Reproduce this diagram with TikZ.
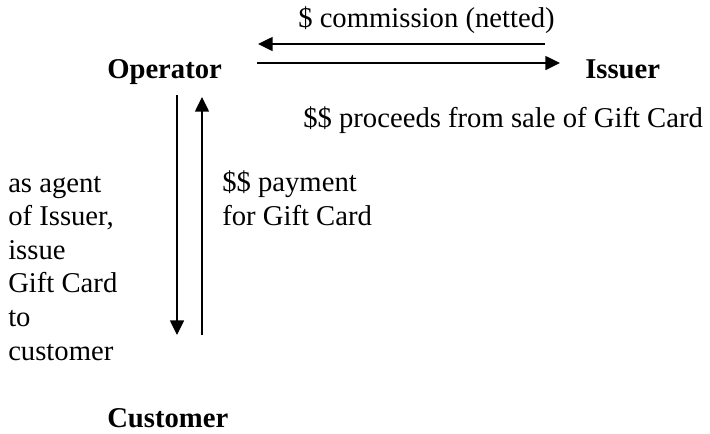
\documentclass[tikz,border=0pt]{standalone}
\usepackage{fontspec}
\setmainfont{Liberation Serif}
\usetikzlibrary{positioning,arrows.meta}

\begin{document}
\begin{tikzpicture}[x=0.75pt,y=-0.75pt,
  flow/.style={-{Triangle[length=11pt,width=10.5pt]}, line width=1.1pt},
  party/.style={font=\bfseries\fontsize{21.5}{25}\selectfont, inner sep=0pt},
  note/.style={font=\fontsize{21.5}{25.2}\selectfont, inner sep=0pt, align=left}]
  \useasboundingbox (0,0) rectangle (710,433);

  % Parties
  \node[party, anchor=base west] (operator) at (107,78) {Operator};
  \node[party, anchor=base west] (issuer) at (585,78) {Issuer};
  \node[party, anchor=base west] (customer) at (107,427) {Customer};

  % Arrow ends
  \coordinate (commA) at (545,44);
  \coordinate (commB) at (258,44);
  \coordinate (procA) at (257,63);
  \coordinate (procB) at (560,63);
  \coordinate (cardA) at (177,95);
  \coordinate (cardB) at (177,335);
  \coordinate (payA) at (202,335);
  \coordinate (payB) at (202,97);

  % Money between Operator and Issuer
  \draw[flow] (commA) -- (commB);
  \draw[flow] (procA) -- (procB);
  \node[note, anchor=base west] (commtext) at (298,27) {\$ commission (netted)};
  \node[note, anchor=base west] (proctext) at (303,127) {\$\$ proceeds from sale of Gift Card};

  % Card and payment between Operator and Customer
  \draw[flow] (cardA) -- (cardB);
  \draw[flow] (payA) -- (payB);
  \node[note, anchor=base west] (cardtext) at (8,360) {as agent\\of Issuer,\\issue\\Gift Card\\to\\customer};
  \node[note, anchor=base west] (paytext) at (222,225) {\$\$ payment\\for Gift Card};
\end{tikzpicture}
\end{document}
